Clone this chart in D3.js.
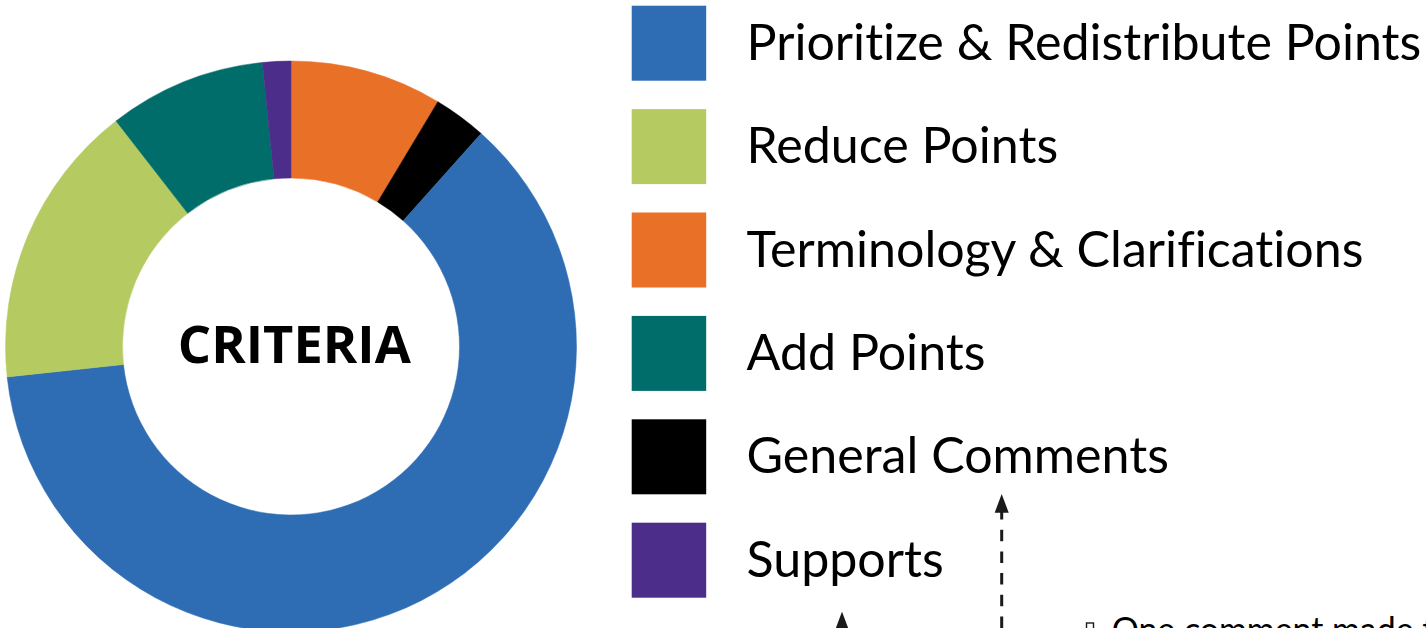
<!DOCTYPE html>
<html>
<head>
<meta charset="utf-8">
<script src="https://cdn.jsdelivr.net/npm/d3@7"></script>
<style>
  html, body { margin: 0; padding: 0; background: #ffffff; overflow: hidden; }
  svg { display: block; }
  text { font-variant-ligatures: no-common-ligatures no-discretionary-ligatures; }
</style>
</head>
<body>
<script>
// ---- data ----
const categories = [
  "Prioritize & Redistribute Points",
  "Reduce Points",
  "Terminology & Clarifications",
  "Add Points",
  "General Comments",
  "Supports"
];
const shares = [61.7, 16.2, 8.6, 8.9, 3.0, 1.6];
const colors = ["#2E6DB4", "#B5CB62", "#E97027", "#006D6B", "#000000", "#4D2D8A"];
// clockwise order of slices around the ring, starting at 12 o'clock
const ringOrder = [
  "Terminology & Clarifications",
  "General Comments",
  "Prioritize & Redistribute Points",
  "Reduce Points",
  "Add Points",
  "Supports"
];
const centerLabel = "CRITERIA";
const noteText = "One comment made th";

// ---- setup ----
const W = 1426, H = 628;
const svg = d3.select("body").append("svg").attr("width", W).attr("height", H);

const color = d3.scaleOrdinal().domain(categories).range(colors);
const valueOf = new Map(categories.map((c, i) => [c, shares[i]]));
const ringData = ringOrder.map(c => ({ name: c, value: valueOf.get(c) }));

// ---- donut ----
const cx = 291, cy = 346.5, outerR = 285.5, innerR = 168.5;
const pie = d3.pie().sort(null).value(d => d.value).startAngle(0).endAngle(2 * Math.PI);
const arc = d3.arc().innerRadius(innerR).outerRadius(outerR);

const g = svg.append("g").attr("transform", `translate(${cx},${cy})`);
g.selectAll("path.slice")
  .data(pie(ringData))
  .join("path")
  .attr("class", "slice")
  .attr("d", arc)
  .attr("fill", d => color(d.data.name))
  .attr("stroke", d => color(d.data.name))
  .attr("stroke-width", 0.5);

// center label, fitted to the reference width
const fam = "'Open Sans', 'Noto Sans', Lato, sans-serif";
const crit = svg.append("text")
  .attr("x", 294.3).attr("y", 363.3)
  .attr("text-anchor", "middle")
  .attr("font-family", fam)
  .attr("font-weight", 700)
  .attr("font-size", 55)
  .attr("fill", "#000")
  .text(centerLabel);
{
  const w = crit.node().getComputedTextLength();
  crit.attr("font-size", 55 * 233 / w);
}

// ---- legend ----
const legFam = "Lato, 'Open Sans', sans-serif";
const rowY = d3.scalePoint().domain(categories).range([5.7, 522.7]);
const sq = 74.5;
const leg = svg.append("g");
const rows = leg.selectAll("g.row").data(categories).join("g")
  .attr("class", "row")
  .attr("transform", d => `translate(0,${rowY(d)})`);
rows.append("rect")
  .attr("x", 631.7).attr("y", 0)
  .attr("width", sq).attr("height", sq + 0.5)
  .attr("fill", d => color(d));
const labels = rows.append("text")
  .attr("x", 746.5).attr("y", 54)
  .attr("font-family", legFam)
  .attr("font-size", 50)
  .attr("fill", "#000")
  .text(d => d);
{
  const w = labels.filter((d, i) => i === 0).node().getComputedTextLength();
  labels.attr("font-size", 50 * 675 / w);
}

// ---- annotations ----
const ann = svg.append("g").attr("fill", "#1a1a1a").attr("stroke", "#1a1a1a");
function arrowHead(x, tipY) {
  return `M${x},${tipY} L${x + 7},${tipY + 18.7} L${x - 7},${tipY + 18.7} Z`;
}
// dashed arrow
ann.append("line")
  .attr("x1", 1001.7).attr("x2", 1001.7)
  .attr("y1", 508).attr("y2", 640)
  .attr("stroke-width", 3)
  .attr("stroke-dasharray", "11.5,10.2")
  .attr("fill", "none");
ann.append("path").attr("d", arrowHead(1001.7, 494)).attr("stroke", "none");
// solid arrow
ann.append("line")
  .attr("x1", 842).attr("x2", 842)
  .attr("y1", 625).attr("y2", 660)
  .attr("stroke-width", 3);
ann.append("path").attr("d", arrowHead(842, 611.7)).attr("stroke", "none");

// note text with hollow square marker
ann.append("rect")
  .attr("x", 1086.5).attr("y", 623)
  .attr("width", 7).attr("height", 7)
  .attr("fill", "none").attr("stroke-width", 1.4);
const note = svg.append("text")
  .attr("x", 1111.7).attr("y", 640)
  .attr("font-family", legFam)
  .attr("font-size", 30)
  .attr("fill", "#000")
  .text(noteText);
{
  const probe = svg.append("text").attr("font-family", legFam).attr("font-size", 30)
    .text("One comment made ");
  const w = probe.node().getComputedTextLength();
  probe.remove();
  const fs = 30 * 302 / w;
  note.attr("font-size", fs).attr("y", 618 + 0.72 * fs);
}
</script>
</body>
</html>
